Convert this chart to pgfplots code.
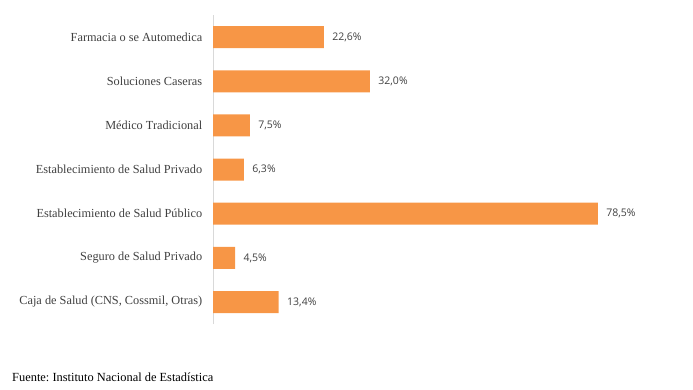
\documentclass[border=0pt]{standalone}
\usepackage{fontspec}
\setmainfont{Liberation Serif}
\newfontfamily\valfont{Open Sans}
\usepackage{pgfplots}
\pgfplotsset{compat=1.18}
\definecolor{barorange}{HTML}{F79646}
\definecolor{txtgray}{HTML}{404040}
\definecolor{axgray}{HTML}{D9D9D9}
\frenchspacing
\begin{document}
\begin{tikzpicture}[x=1pt,y=1pt]
\path[use as bounding box] (0,0) rectangle (693,389);
\begin{axis}[
  at={(213pt,64.9pt)}, anchor=south west,
  scale only axis, width=402pt, height=309pt,
  xbar, bar width=22pt,
  xmin=0, xmax=82, ymin=-0.5, ymax=6.5,
  axis x line=none,
  axis y line*=left,
  y axis line style={axgray, line width=0.8pt, -},
  ytick={0,...,6},
  yticklabels={Caja de Salud (CNS{,} Cossmil{,} Otras), Seguro de Salud Privado, Establecimiento de Salud Público, Establecimiento de Salud Privado, Médico Tradicional, Soluciones Caseras, Farmacia o se Automedica},
  ytick style={draw=none},
  yticklabel style={font=\fontsize{12.3}{14}\selectfont, text=txtgray, xshift=-3pt},
  nodes near coords,
  nodes near coords style={font=\valfont\fontsize{10.5}{12}\selectfont, text=txtgray, xshift=5pt},
  /pgf/number format/.cd, use comma, fixed, fixed zerofill, precision=1, assume math mode=true,
  /pgfplots/.cd,
  nodes near coords={\pgfmathprintnumber{\pgfplotspointmeta}\%},
]
\addplot[fill=barorange, draw=none] coordinates {
 (13.4,0) (4.5,1) (78.5,2) (6.3,3) (7.5,4) (32.0,5) (22.6,6)};
\end{axis}
\node[anchor=base west, font=\fontsize{12.4}{14}\selectfont, text=black, inner sep=0pt] at (12,8) {Fuente: Instituto Nacional de Estadística};
\end{tikzpicture}
\end{document}
